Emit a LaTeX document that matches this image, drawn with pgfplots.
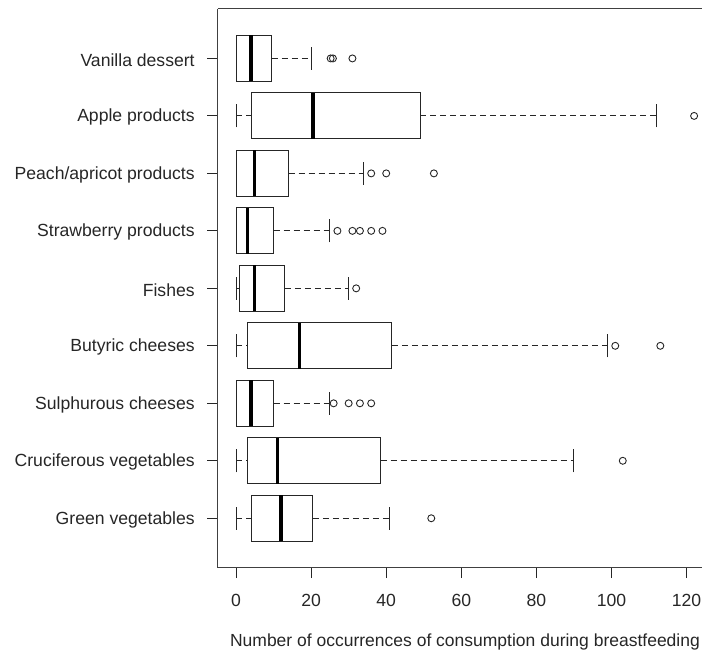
\documentclass[border=0pt]{standalone}
\usepackage{pgfplots}
\pgfplotsset{compat=1.18}
\usepgfplotslibrary{statistics}
\usepackage{fontspec}
\setmainfont{Liberation Sans}
\begin{document}
\begin{tikzpicture}
\path[use as bounding box] (0,0) rectangle (702pt,654pt);
\begin{axis}[
  at={(217.7pt,86.3pt)}, anchor=south west,
  scale only axis, width=484.3pt, height=558.7pt,
  xmin=-4.88, xmax=124.1, ymin=0.14, ymax=9.86,
  axis x line*=bottom, axis y line*=left,
  axis line style={-, line width=1pt, black!75},
  tick align=outside, major tick length=10.5pt,
  tick style={line width=1pt, black!85},
  xtick={0,20,...,120},
  ytick={1,...,9},
  yticklabels={Green vegetables, Cruciferous vegetables, Sulphurous cheeses, Butyric cheeses, Fishes, Strawberry products, Peach/apricot products, Apple products, Vanilla dessert},
  /pgf/number format/assume math mode=true,
  ticklabel style={font=\fontsize{17.6}{21}\selectfont, text=black!85},
  xticklabel style={anchor=base, yshift=-28pt},
  yticklabel style={anchor=east, xshift=-9pt, yshift=-1.5pt},
  xlabel={Number of occurrences of consumption during breastfeeding},
  xlabel style={font=\fontsize{17.5}{21}\selectfont, text=black!85, at={(axis description cs:0.5106,0)}, anchor=base, yshift=-78.8pt},
  boxplot/box extend=0.8,
  boxplot/whisker extend=0.4,
  boxplot/every box/.style={line width=1pt, black!85},
  boxplot/every median/.style={line width=3.2pt, black},
  boxplot/draw/lower whisker/.code={%
    \draw[line width=1pt, black!85, dash pattern=on 6pt off 4pt]
      (boxplot cs:\pgfplotsboxplotvalue{lower whisker}) -- (boxplot cs:\pgfplotsboxplotvalue{lower quartile});
    \draw[line width=1pt, black!85]
      (boxplot whisker cs:\pgfplotsboxplotvalue{lower whisker},0) -- (boxplot whisker cs:\pgfplotsboxplotvalue{lower whisker},1);
  },
  boxplot/draw/upper whisker/.code={%
    \draw[line width=1pt, black!85, dash pattern=on 6pt off 4pt]
      (boxplot cs:\pgfplotsboxplotvalue{upper quartile}) -- (boxplot cs:\pgfplotsboxplotvalue{upper whisker});
    \draw[line width=1pt, black!85]
      (boxplot whisker cs:\pgfplotsboxplotvalue{upper whisker},0) -- (boxplot whisker cs:\pgfplotsboxplotvalue{upper whisker},1);
  },
]
\pgfplotsset{bp/.style={black!85, mark=o, mark size=3.5pt, mark options={solid, line width=0.9pt}}}
% Vanilla dessert
\addplot[bp, boxplot prepared={draw position=9, lower whisker=0, lower quartile=0, median=4, upper quartile=9.5, upper whisker=20}]
  coordinates {(0,25.2) (0,25.8) (0,31)};
% Apple products
\addplot[bp, boxplot prepared={draw position=8, lower whisker=0, lower quartile=4, median=20.5, upper quartile=49, upper whisker=112}]
  coordinates {(0,122)};
% Peach/apricot products
\addplot[bp, boxplot prepared={draw position=7, lower whisker=0, lower quartile=0, median=5, upper quartile=14, upper whisker=34}]
  coordinates {(0,36) (0,40) (0,52.7)};
% Strawberry products
\addplot[bp, boxplot prepared={draw position=6, lower whisker=0, lower quartile=0, median=3, upper quartile=10, upper whisker=25}]
  coordinates {(0,27) (0,31) (0,33) (0,36) (0,39)};
% Fishes
\addplot[bp, boxplot prepared={draw position=5, lower whisker=0, lower quartile=1, median=5, upper quartile=13, upper whisker=30}]
  coordinates {(0,32)};
% Butyric cheeses
\addplot[bp, boxplot prepared={draw position=4, lower whisker=0, lower quartile=3, median=17, upper quartile=41.5, upper whisker=99}]
  coordinates {(0,101) (0,113)};
% Sulphurous cheeses
\addplot[bp, boxplot prepared={draw position=3, lower whisker=0, lower quartile=0, median=4, upper quartile=10, upper whisker=25}]
  coordinates {(0,26) (0,30) (0,33) (0,36)};
% Cruciferous vegetables
\addplot[bp, boxplot prepared={draw position=2, lower whisker=0, lower quartile=3, median=11, upper quartile=38.5, upper whisker=90}]
  coordinates {(0,103)};
% Green vegetables
\addplot[bp, boxplot prepared={draw position=1, lower whisker=0, lower quartile=4, median=12, upper quartile=20.5, upper whisker=41}]
  coordinates {(0,52)};
\draw[line width=1pt, black!75] (rel axis cs:0,1) -- (rel axis cs:1,1);
\end{axis}
\end{tikzpicture}
\end{document}
